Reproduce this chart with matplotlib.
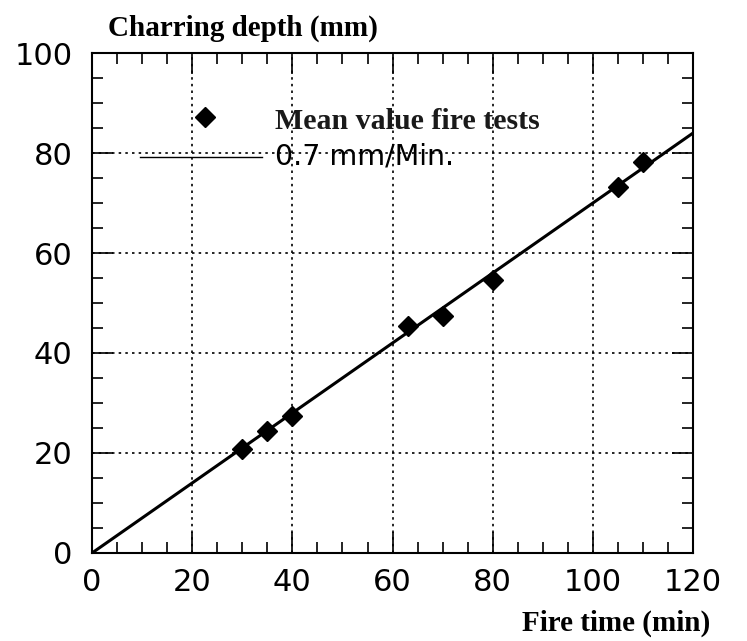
import numpy as np
import matplotlib.pyplot as plt
from matplotlib.ticker import MultipleLocator

fire_time = [30, 35, 40, 63, 70, 80, 105, 110]
char_depth = [20.7, 24.3, 27.3, 45.3, 47.5, 54.7, 73.3, 78.3]

rate = 0.7  # mm/Min.
line_t = [0, 120]

x_ticks = [0, 20, 40, 60, 80, 100, 120]
y_ticks = [0, 20, 40, 60, 80, 100]

sans = "DejaVu Sans"
serif = "Liberation Serif"

fig = plt.figure(figsize=(7.47, 6.41), dpi=100)
ax = fig.add_axes([0.1232, 0.1373, 0.8046, 0.780])

# Abbrandlinie
ax.plot(line_t, [rate * t for t in line_t], color="black", lw=2.2, zorder=3)
ax.plot(fire_time, char_depth, linestyle="none", marker="D", ms=10,
        color="black", zorder=4)

ax.set_xlim(0, 120)
ax.set_ylim(0, 100)
ax.set_xticks(x_ticks)
ax.set_yticks(y_ticks)
ax.set_xticklabels([str(v) for v in x_ticks], fontfamily=sans, fontsize=22)
ax.set_yticklabels([str(v) for v in y_ticks], fontfamily=sans, fontsize=22)
ax.xaxis.set_minor_locator(MultipleLocator(5))
ax.yaxis.set_minor_locator(MultipleLocator(5))
ax.tick_params(which="both", direction="in", top=True, right=True, color="black")
ax.tick_params(which="major", length=15, width=1.2)
ax.tick_params(which="minor", length=8, width=1.2)
ax.tick_params(axis="x", which="major", pad=11)
ax.tick_params(axis="y", which="major", pad=14)

ax.grid(True, which="major", color="black", linestyle=(0, (1.5, 2.5)), lw=1.2)
for s in ax.spines.values():
    s.set_linewidth(1.5)

# Legende von Hand
ax.plot([22.5], [87.3], marker="D", ms=10, color="black", linestyle="none")
ax.text(36.5, 86.4, "Mean value fire tests", fontfamily=serif, fontweight="bold",
        fontsize=21.5, va="center", ha="left", color="#1a1a1a")
ax.plot([9.6, 34], [79.2, 79.2], color="black", lw=1)
ax.text(36.5, 79.3, "0.7 mm/Min.", fontfamily=sans, fontsize=20.5,
        va="center", ha="left")

fig.text(108 / 747, 1 - 28 / 641, "Charring depth (mm)", fontfamily=serif,
         fontweight="bold", fontsize=21, va="center", ha="left")
fig.text(710 / 747, 1 - 623 / 641, "Fire time (min)", fontfamily=serif,
         fontweight="bold", fontsize=21, va="center", ha="right")

fig.savefig("out.png", dpi=100)
